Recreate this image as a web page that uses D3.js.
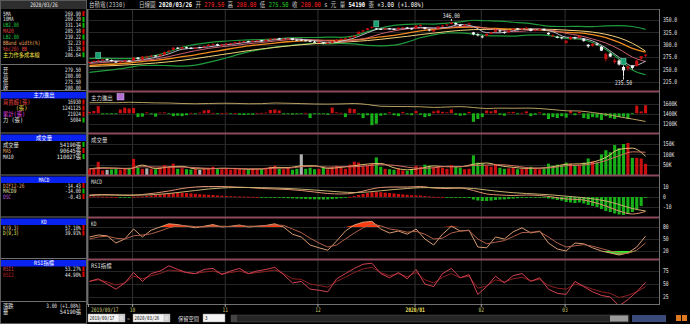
<!DOCTYPE html>
<html><head><meta charset="utf-8">
<script src="https://cdn.jsdelivr.net/npm/d3@7/dist/d3.min.js"></script>
<style>
html,body{margin:0;padding:0;background:#000;overflow:hidden;}
svg{display:block;}
</style></head>
<body><svg id="chart" width="690" height="324"></svg>
<script>
// ================= DATA =================
const monthDays = [
  ["2019/09", [17,18,19,20,23,24,25,26,27,30]],
  ["2019/10", [1,2,3,4,7,8,9,14,15,16,17,18,21,22,23,24,25,28,29,30,31]],
  ["2019/11", [1,4,5,6,7,8,11,12,13,14,15,18,19,20,21,22,25,26,27,28,29]],
  ["2019/12", [2,3,4,5,6,9,10,11,12,13,16,17,18,19,20,23,24,25,26,27,30,31]],
  ["2020/01", [2,3,6,7,8,9,10,13,14,15,16,17,20,30,31]],
  ["2020/02", [3,4,5,6,7,10,11,12,13,14,17,18,19,20,21,24,25,26,27]],
  ["2020/03", [2,3,4,5,6,9,10,11,12,13,16,17,18,19,20,23,24,25,26]]
];
const xTickLabels = ["2019/09/17","10","11","12","2020/01","02","03"];
// [open, high, low, close]
const ohlc = [
 [264,266,263,265],[265,268,265,267],[268,270,266,268],[268,271,267,270],[271,272,268,270],
 [269,270,266,267],[266,267,263,264],[264,267,263,266],[266,269,265,268],[268,269,265,267],
 [268,275,267,274],[274,275,270,271],[270,277,269,276],[276,278,274,276],[277,279,275,278],
 [278,279,276,277],[277,281,276,280],[280,286,279,285],[286,289,284,288],[290,295,289,294],
 [294,295,291,292],[292,296,291,295],[295,296,292,293],[294,295,291,292],[292,295,291,294],
 [295,296,293,294],[295,298,294,297],[297,301,297,300],[301,303,300,301],[301,302,297,298],
 [298,301,297,300],[301,303,299,302],[302,304,301,303],[303,306,302,305],[305,307,304,306],
 [306,308,305,307],[307,308,305,306],[306,309,305,308],[308,310,307,309],[309,310,306,307],
 [307,311,307,310],[310,313,309,312],[312,314,311,313],[313,314,310,311],[311,313,310,312],
 [312,314,311,313],[313,313,309,310],[310,311,308,309],[310,312,308,309],[309,310,307,308],
 [308,309,305,306],[306,308,304,305],[304,307,303,306],[305,305,301,303],[303,305,302,304],
 [304,308,303,307],[307,311,306,310],[310,313,309,312],[312,314,311,313],[313,316,312,315],
 [315,319,314,318],[322,327,321,326],[327,330,325,329],[330,334,329,333],[334,337,333,336],
 [333,334,330,332],[332,333,330,331],[331,334,330,333],[333,334,331,332],[332,333,330,331],
 [331,335,331,334],[334,336,333,335],[335,336,332,333],[333,334,330,331],[333,339,332,339],
 [339,341,337,340],[335,336,331,332],[331,332,327,329],[327,331,325,330],[333,337,332,337],
 [338,340,336,339],[340,342,338,341],[342,346,341,345],[344,345,340,341],[340,342,337,339],
 [339,342,338,340],[341,344,340,343],[325,326,319,321],[321,323,317,320],[317,319,313,316],
 [318,323,317,322],[322,326,321,325],[326,331,325,330],[329,330,325,327],[326,327,322,324],
 [325,330,324,329],[330,333,329,332],[333,334,330,331],[331,334,330,333],[333,336,332,334],
 [332,333,327,328],[328,331,327,330],[330,333,329,332],[332,333,328,329],[324,325,320,321],
 [318,321,316,319],[316,318,313,315],[315,316,311,313],[304,309,302,308],[311,317,310,316],
 [315,316,311,313],[314,319,313,318],[312,313,306,308],[300,301,294,297],[298,303,296,302],
 [302,304,298,300],[296,297,287,288],[271,284,266,281],[282,284,275,276],[265,272,262,268],
 [268,270,258,260],[255,258,235.5,248],[252,258,248,256],[258,259,250,253],[257,269,256,268],
 [272,277,270,277],[279.5,280,275.5,280]
];
// volume in thousand 張
const volume = [
 28,30,64,22,25,27,30,26,33,35,
 78,35,30,32,30,28,36,48,42,55,30,33,28,26,30,25,30,35,40,30,28,
 30,26,32,28,25,27,30,26,28,35,40,45,30,28,35,25,30,100,30,35,28,
 30,40,28,38,45,35,30,50,64,60,42,48,55,85,40,30,28,25,30,22,20,25,
 45,40,50,45,38,42,35,30,48,42,35,28,30,95,60,
 55,45,40,50,35,30,32,35,28,30,35,40,30,28,32,55,45,50,48,
 60,55,45,50,60,80,65,60,100,120,110,145,130,150,155,83,83,80,54.19
];
// 主力進出 daily net (張)
const mainForce = [
 3000,5000,15000,-2000,-1500,-2000,-1000,8000,12000,10000,
 11000,-8000,-7000,2000,-2000,-7000,1500,2000,-1000,-6000,-5000,-6000,-4000,1000,-1000,1500,6000,7000,1000,-1000,500,
 1000,-1000,500,-3000,-3500,-2500,-3000,500,1000,1500,7000,8000,6000,-2000,-1500,-2500,-2000,-1000,1000,-10000,-1000,
 -2000,-1500,-3000,12000,2000,1000,-8000,10000,9000,-2000,-10000,-4000,-25000,-22000,-5000,-3000,2000,-4000,-6000,3000,-2000,-4000,
 5000,-3000,-8000,-6000,4000,6000,3000,2000,8000,-3000,-5000,-4000,3000,-18000,-12000,
 -8000,6000,4000,7000,-3000,-5000,2000,3000,-2000,1000,4000,-6000,-3000,2000,-4000,-12000,-8000,-10000,-6000,
 -9000,5000,-4000,3000,-10000,-12000,-8000,-9000,-14000,-6000,-10000,-12000,-8000,-7000,-12000,-2000,16000,4000,16930
];
// MACD histogram (OSC)
const osc = [
 0.5,0.6,0.5,0.4,0.3,0.2,0,-0.2,-0.3,-0.2,
 0.3,0.4,0.5,1,1.5,2,2.5,3,3.5,4,4.2,4.3,4,3.6,3.2,2.8,2.5,2.2,2,1.6,1.3,
 1,0.8,0.6,0.5,0.4,0.3,0.2,0.1,-0.2,-0.4,-0.5,-0.6,-0.8,-1,-1.2,-1.4,-1.6,-1.8,-2,-2.2,-2.3,
 -2.4,-2.5,-2.4,-2.1,-1.7,-1.2,-0.6,0.1,1,2,3,4,4.8,5,4.8,4.4,4,3.5,3,2.6,2.2,1.8,
 1.6,1.4,1,0.6,0.3,0.1,0.1,-0.2,-0.3,-0.4,-0.5,-0.7,-1,-2.5,-3.5,
 -4,-4,-3.6,-3,-2.6,-2.4,-2,-1.6,-1.2,-0.9,-0.6,-0.6,-0.5,-0.5,-0.8,-1.5,-2.2,-3,-3.6,
 -5,-5.5,-6,-5.5,-6.5,-8,-9,-10,-12,-14,-15,-16.5,-17.5,-18,-17,-15,-12,-9,-0.43
];
// smooth lines, read every 3rd trading day
const ma5 = [264,266.8,267.4,266.4,270,274.4,281.6,290.8,293.2,295.6,299.2,301.6,305.4,307.4,310.2,312.2,311,307.8,304.6,307.2,313.6,324.2,332.2,331.8,332.8,335.2,333.6,335,341,336.8,324.4,324,328.4,331.8,331.4,326.2,315.2,313.6,307.6,293.6,274.6,257,266.8];
const ma10 = [262,264,266,266.8,268.5,271,276,282,288,292.5,296,298.5,302,304.5,307.5,310,311,310,308,306,309,314,322,328,332,333.5,333.5,334.5,337,337,333,330,326.5,328,330.5,329,323,318.5,311.5,303.5,291,275,266];
const ma20 = [258,260,261,263,266,268.4,271.6,275.9,279.6,284.3,288.8,293.5,297.7,300.5,303.3,306,307.6,308.6,308.5,308.9,309.9,312.5,315.7,319.1,323.3,328.1,330.8,333.7,335.1,335.5,333.5,332.7,331.5,331.6,329.9,327.3,324.9,324.1,320.4,314.3,304.7,292.8,285.2];
const upperBand = [272,273,272,272,274,278.4,285.6,294.9,300.6,304.3,306.8,308.5,309.7,310.5,311.3,314,314.6,314.6,315.5,314.9,317.9,326.5,333.7,339.1,341.3,342.1,341.8,343.7,346.1,349.5,348.5,347.7,345.5,343.6,339.9,337.3,336.9,337.1,336.4,338.3,338.7,336.8,331.1];
const lowerBand = [244,247,250,254,258,258.4,257.6,256.9,258.6,264.3,270.8,278.5,285.7,290.5,295.3,298,300.6,302.6,301.5,302.9,301.9,298.5,297.7,299.1,305.3,314.1,319.8,323.7,324.1,321.5,318.5,317.7,317.5,319.6,319.9,317.3,312.9,311.1,304.4,290.3,270.7,248.8,239.2];
const costLine = [256,257,258,259.5,261,263,265.5,268.5,272,276,280,284,288,291.5,294.5,297.5,300,302,303.5,305,306.5,308.5,311,314,317,320.5,323.5,326.5,329,330.5,331,331,331,331.5,331.5,331,329.5,328,325.5,321,314,303,287];
const mainCum = [1615,1618,1615,1625,1620,1612,1610,1600,1595,1600,1605,1603,1595,1597,1610,1605,1598,1590,1588,1592,1600,1580,1545,1540,1538,1535,1522,1530,1538,1520,1500,1508,1505,1508,1500,1478,1455,1450,1420,1385,1335,1290,1241];
const volMA5 = [30,35,33,30,48,31,39,42,30,30,33,31,28,29,37,36,44,45,32,37,45,53,56,35,25,32,44,40,40,52,58,45,37,32,33,40,52,54,62,85,124,130,90.6];
const volMA10 = [30,32,33,32,40,39,38,38,36,32,31,32,30,30,33,33,40,42,38,40,40,45,50,47,38,32,35,42,40,46,48,50,45,36,33,36,45,47,54,70,93,112,110];
const dif = [2,2.5,2,1.5,2.5,4,6,8.5,10,10.5,10.5,10,9.5,8.5,8,7.5,6.5,5,3.5,3,4,7,9.5,10,10,10.5,9,8.5,9,6.5,3,2,1.5,2,1.5,0,-2,-2.5,-5,-9,-14,-17,-14.43];
const macdSignal = [1.5,2,2,2,2,2.5,3.5,5,6.5,8,9,9.5,9.5,9.3,9,8.5,7.8,7,6,5,4.5,5,6.2,7.5,8.5,9.3,9.4,9.2,9.1,8.5,7,5.5,4.3,3.5,2.8,2,0.8,-0.3,-1.8,-4,-7.5,-11.5,-14];
// oscillators, read every 2nd trading day
const kLine = [55,60,58,40,50,75,55,72,80,88,86,82,78,82,86,80,82,85,80,82,84,88,80,62,55,35,28,22,45,70,85,92,94,75,65,70,62,75,50,35,62,82,70,72,30,28,55,50,68,78,65,70,40,25,20,40,38,28,20,15,10,15,30,57.1];
const dLine = [50,55,57,52,50,58,60,63,70,78,83,83,81,80,82,82,81,83,82,82,83,85,84,75,66,52,40,30,35,50,65,78,87,83,75,72,67,69,62,50,52,65,70,71,50,38,42,46,56,66,67,68,55,40,30,33,36,32,26,20,15,14,22,39.91];
const rsi1 = [55,60,50,40,52,72,55,70,75,85,78,72,70,78,80,68,75,80,70,75,78,82,68,52,55,40,38,35,60,70,80,88,90,70,62,72,60,78,50,45,70,80,62,68,30,45,65,52,66,70,55,62,40,32,30,55,45,35,28,25,8,20,35,53.27];
const rsi2 = [55,58,54,48,52,65,60,66,70,77,75,72,70,73,75,70,72,75,70,72,74,77,70,60,59,50,47,44,55,63,72,79,82,72,66,70,64,72,58,52,63,70,62,65,42,46,58,54,60,63,56,59,47,42,40,50,46,40,35,32,24,28,35,44.9];
// left panel texts
const priceLegendLabels = ["5MA","10MA","UB2.00","MA20","LB2.00","BBand width(%)","%b(20) BB","主力作多成本線"];
const priceLegendValues = ["269.90","269.20","331.14","285.18","239.22","32.23","31.35","286.64"];
const mainLegendLabels = ["買賣超(張)","    (張)","累計(張)","力 (張)"];
const mainLegendValues = ["16930","1241125","21924","5084"];
const volLegendLabels = ["成交量","MA5","MA10"];
const volLegendValues = ["54190張","90645張","110027張"];
const macdLegendLabels = ["DIF12-26","MACD9","OSC"];
const macdLegendValues = ["-14.43","-14.00","-0.43"];
const kdLegendLabels = ["K(9,3)","D(9,3)"];
const kdLegendValues = ["57.10%","39.91%"];
const rsiLegendLabels = ["RSI1","RSI2"];
const rsiLegendValues = ["53.27%","44.90%"];
const priceTicks = [225,250,275,300,325,350];
const mainTicks = [1200,1400,1600];
const volTicks = [50,100,150];
const macdTicks = [-10,0,10];
const kdTicks = [20,50,80];
const rsiTicks = [25,50,75];
const exDivDates = ["2019/09/19","2019/12/19","2020/03/19"];

// ================= BUILD =================
const dates = [];
monthDays.forEach(([m, ds]) => ds.forEach(d => dates.push(m + "/" + String(d).padStart(2,"0"))));
const tickDates = monthDays.map(([m, ds]) => m + "/" + String(ds[0]).padStart(2,"0"));
const s3 = d3.range(0, dates.length, 3).map(i => dates[i]);
const s2 = d3.range(0, dates.length, 2).map(i => dates[i]);

const MONO = "'DejaVu Sans Mono','Noto Sans CJK TC',monospace";
const RED = "#e00000", GRN = "#00c000";

const svg = d3.select("#chart");
svg.append("rect").attr("width",690).attr("height",324).attr("fill","#000");

function T(g, x, y, s, o) {
  o = o || {};
  const cjk = /[\u3000-\u9fff\uff00-\uffef]/.test(s);
  const sx = o.sx || (cjk ? 0.88 : 0.74);
  return g.append("text")
    .attr("transform", "translate(" + x + "," + y + ") scale(" + sx + ",1)")
    .attr("text-anchor", o.anchor || "start")
    .attr("font-family", MONO)
    .attr("font-size", o.size || 6.4)
    .attr("font-weight", o.weight || "normal")
    .attr("fill", o.color || "#e0e0e0")
    .attr("xml:space","preserve")
    .text(s);
}

const PL = 88, PR = 659;
const x = d3.scaleBand().domain(dates).range([87,648]).paddingInner(0.3).paddingOuter(0.2);
const bw = x.bandwidth();
const cx = d => x(d) + bw/2;

const panels = {
  price:{t:9,b:91}, main:{t:92,b:133}, vol:{t:134,b:175},
  macd:{t:176,b:217}, kd:{t:218,b:259}, rsi:{t:260,b:304}
};
const yP = d3.scaleLinear().domain([225,350]).range([81.8,20]);
const yMC = d3.scaleLinear().domain([1200,1600]).range([123.5,103.5]);
const yMB = d3.scaleLinear().domain([-21000,21000]).range([123.3,103.3]);
const yV = d3.scaleLinear().domain([0,150]).range([175,144]);
const yM = d3.scaleLinear().domain([-10,10]).range([207,187]);
const yK = d3.scaleLinear().domain([20,80]).range([251,227]);
const yR = d3.scaleLinear().domain([25,75]).range([297,271]);

const defs = svg.append("defs");
Object.entries(panels).forEach(([k,p]) => {
  defs.append("clipPath").attr("id","clip-"+k).append("rect")
    .attr("x",PL).attr("y",p.t).attr("width",PR-PL).attr("height",p.b-p.t);
});
const gridG = svg.append("g");
const G = {};
Object.keys(panels).forEach(k => { G[k] = svg.append("g").attr("clip-path","url(#clip-"+k+")"); });

tickDates.forEach(td => {
  gridG.append("line").attr("x1",cx(td)-1).attr("x2",cx(td)-1).attr("y1",9).attr("y2",304)
    .attr("stroke","#333").attr("stroke-width",1);
});
function hgrid(scale, ticks) {
  ticks.forEach(t => gridG.append("line").attr("x1",PL).attr("x2",PR)
    .attr("y1",Math.round(scale(t))+0.5).attr("y2",Math.round(scale(t))+0.5)
    .attr("stroke","#262626"));
}
hgrid(yP, priceTicks); hgrid(yMC, mainTicks); hgrid(yV, volTicks);
hgrid(yM, macdTicks); hgrid(yK, kdTicks); hgrid(yR, rsiTicks);

function sparseLine(g, arr, keys, scale, color, width, curve) {
  g.append("path").datum(arr)
    .attr("d", d3.line().x((v,k)=>cx(keys[k])).y(v=>scale(v)).curve(curve || d3.curveMonotoneX))
    .attr("fill","none").attr("stroke",color).attr("stroke-width",width||1);
}

// ---- price panel ----
sparseLine(G.price, upperBand, s3, yP, "#1f9a3c", 1.2);
sparseLine(G.price, lowerBand, s3, yP, "#1f9a3c", 1.2);
sparseLine(G.price, costLine, s3, yP, "#f2d27a", 1);
sparseLine(G.price, ma20, s3, yP, "#f08a1c", 1.3);
sparseLine(G.price, ma10, s3, yP, "#c86070", 1);
sparseLine(G.price, ma5, s3, yP, "#b8b8c8", 1);

const candles = G.price.selectAll("g.c").data(ohlc).join("g");
candles.append("line")
  .attr("x1",(d,i)=>cx(dates[i])).attr("x2",(d,i)=>cx(dates[i]))
  .attr("y1",d=>yP(d[1])).attr("y2",d=>yP(d[2]))
  .attr("stroke",d=>d[3]>=d[0]?"#c81010":"#f0f0f0");
candles.append("rect")
  .attr("x",(d,i)=>x(dates[i])).attr("width",bw)
  .attr("y",d=>yP(Math.max(d[0],d[3])))
  .attr("height",d=>Math.max(1,Math.abs(yP(d[0])-yP(d[3]))))
  .attr("fill",d=>d[3]>=d[0]?"#c81010":"#f4f4f4");
exDivDates.forEach(dd => {
  const i = dates.indexOf(dd);
  const gx = cx(dd), gy = yP(ohlc[i][1]) - 7;
  G.price.append("rect").attr("x",gx-2.5).attr("y",gy).attr("width",5).attr("height",6)
    .attr("fill","#1aa070").attr("stroke","#7fe0c0").attr("stroke-width",0.5);
});
(function(){
  let hi = 0, lo = 0;
  ohlc.forEach((d,i)=>{ if(d[1]>ohlc[hi][1]) hi=i; if(d[2]<ohlc[lo][2]) lo=i; });
  const hx = cx(dates[hi]), lx = cx(dates[lo]);
  svg.append("line").attr("x1",hx).attr("x2",hx).attr("y1",yP(ohlc[hi][1])-1).attr("y2",yP(ohlc[hi][1])-3).attr("stroke","#ddd");
  T(svg, hx, yP(ohlc[hi][1])-3.5, ohlc[hi][1].toFixed(2), {anchor:"middle", color:"#e8e8e8"});
  svg.append("line").attr("x1",lx).attr("x2",lx).attr("y1",yP(ohlc[lo][2])+0.5).attr("y2",yP(ohlc[lo][2])+3).attr("stroke","#ddd");
  T(svg, lx, yP(ohlc[lo][2])+8.5, ohlc[lo][2].toFixed(2), {anchor:"middle", color:"#e8e8e8"});
})();

// ---- main force panel ----
G.main.selectAll("rect.b").data(mainForce).join("rect")
  .attr("x",(d,i)=>x(dates[i])).attr("width",bw)
  .attr("y",d=>Math.min(yMB(d),yMB(0))).attr("height",d=>Math.max(0.8,Math.abs(yMB(d)-yMB(0))))
  .attr("fill",d=>d>=0?"#c81010":"#18b018");
sparseLine(G.main, mainCum, s3, yMC, "#b8a060", 1);

// ---- volume panel ----
G.vol.selectAll("rect.v").data(volume).join("rect")
  .attr("x",(d,i)=>x(dates[i])).attr("width",bw)
  .attr("y",d=>yV(d)).attr("height",d=>yV(0)-yV(d))
  .attr("fill",(d,i)=>{ if(i===0) return "#c81010"; const c=ohlc[i][3], p=ohlc[i-1][3]; return c>p?"#c81010":(c<p?"#18b018":"#b0b0b0"); });
sparseLine(G.vol, volMA5, s3, yV, "#e0c070", 1);
sparseLine(G.vol, volMA10, s3, yV, "#d07060", 1);

// ---- MACD ----
G.macd.selectAll("rect.m").data(osc).join("rect")
  .attr("x",(d,i)=>x(dates[i])).attr("width",bw)
  .attr("y",d=>Math.min(yM(d),yM(0))).attr("height",d=>Math.max(0.8,Math.abs(yM(d)-yM(0))))
  .attr("fill",d=>d>=0?"#c81010":"#18b018");
sparseLine(G.macd, dif, s3, yM, "#e09070", 1);
sparseLine(G.macd, macdSignal, s3, yM, "#c8b070", 1);

// ---- KD ----
const kPts = kLine.map((v,k)=>[cx(s2[k]), v]);
G.kd.append("path").datum(kPts)
  .attr("d", d3.area().x(d=>d[0]).y0(yK(80)).y1(d=>yK(Math.max(80,d[1]))))
  .attr("fill","#ff3a10");
G.kd.append("path").datum(kPts)
  .attr("d", d3.area().x(d=>d[0]).y0(yK(20)).y1(d=>yK(Math.min(20,d[1]))))
  .attr("fill","#30f030");
sparseLine(G.kd, kLine, s2, yK, "#d89a70", 1, d3.curveLinear);
sparseLine(G.kd, dLine, s2, yK, "#b06048", 1, d3.curveLinear);

// ---- RSI ----
sparseLine(G.rsi, rsi2, s2, yR, "#8c2020", 1, d3.curveLinear);
sparseLine(G.rsi, rsi1, s2, yR, "#d04050", 1, d3.curveLinear);

// ---- frames / separators ----
svg.append("line").attr("x1",PR+0.5).attr("x2",PR+0.5).attr("y1",9).attr("y2",305).attr("stroke","#707070");
svg.append("line").attr("x1",PL-0.5).attr("x2",PL-0.5).attr("y1",9).attr("y2",305).attr("stroke","#707070");
svg.append("line").attr("x1",PL).attr("x2",PR).attr("y1",9.5).attr("y2",9.5).attr("stroke","#505050");
[91.5,133.5,175.5,217.5,259.5].forEach(y => {
  svg.append("rect").attr("x",PL).attr("y",y-1).attr("width",PR-PL).attr("height",2).attr("fill","#8a4a5c");
});
svg.append("line").attr("x1",PL).attr("x2",PR).attr("y1",304.5).attr("y2",304.5).attr("stroke","#707070");

function axisLabels(scale, ticks, fmt) {
  ticks.forEach(t => T(svg, 663, scale(t)+2.2, fmt(t), {color:"#e4e4e4"}));
}
axisLabels(yP, priceTicks, t=>t.toFixed(1));
axisLabels(yMC, mainTicks, t=>t+"K");
axisLabels(yV, volTicks, t=>t+"K");
axisLabels(yM, macdTicks, t=>String(t));
axisLabels(yK, kdTicks, t=>String(t));
axisLabels(yR, rsiTicks, t=>String(t));

function ptitle(y, s) { T(svg, 91, y, s, {color:"#d8d8d8", size:6.2}); }
ptitle(99.5,"主力進出");
svg.append("rect").attr("x",117).attr("y",93.5).attr("width",7).attr("height",6.5).attr("fill","#b070d0").attr("stroke","#e0b0ff").attr("stroke-width",0.5);
ptitle(141.5,"成交量");
ptitle(183.5,"MACD");
ptitle(225.5,"KD");
ptitle(267.5,"RSI指標");

tickDates.forEach((td,k) => {
  const tx = cx(td) - 1;
  svg.append("line").attr("x1",tx).attr("x2",tx).attr("y1",304).attr("y2",307).attr("stroke","#a0a0a0");
  const first = k===0, bold = xTickLabels[k].length===7;
  T(svg, first ? 91 : tx, 312, xTickLabels[k], {anchor: first ? "start":"middle", weight: bold?"bold":"normal",
    color: bold ? "#f0e060" : "#c8c878", size:6.2});
});

(function(){
  const last = ohlc[ohlc.length-1], prev = ohlc[ohlc.length-2];
  const chg = last[3]-prev[3];
  const t = svg.append("text").attr("transform","translate(89,7) scale(0.84,1)").attr("font-family",MONO).attr("font-size",6.6)
    .attr("xml:space","preserve");
  const parts = [
    ["台積電(2330)","#c8c8c8","normal"],["    日線圖 ","#c8c8c8","normal"],
    [dates[dates.length-1],"#ffffff","bold"],[" 开 ","#c8c8c8","normal"],[last[0].toFixed(2),"#ff2020","normal"],
    [" 高 ","#c8c8c8","normal"],[last[1].toFixed(2),"#ff2020","normal"],
    [" 低 ","#c8c8c8","normal"],[last[2].toFixed(2),"#20d020","normal"],
    [" 收 ","#c8c8c8","normal"],[last[3].toFixed(2),"#ff2020","normal"],
    [" s 元 ","#c8c8c8","normal"],["量 ","#c8c8c8","normal"],
    [String(Math.round(volume[volume.length-1]*1000)),"#ffffff","bold"],[" 張 ","#c8c8c8","normal"],
    [(chg>=0?"+":"")+chg.toFixed(2)+" (+"+(chg/prev[3]*100).toFixed(2)+"%)","#ffffff","normal"]
  ];
  parts.forEach(p => t.append("tspan").attr("fill",p[1]).attr("font-weight",p[2]).text(p[0]));
})();

// ================= LEFT PANEL =================
const LP = svg.append("g");
LP.append("rect").attr("x",0.5).attr("y",0.5).attr("width",86).attr("height",323).attr("fill","#000").attr("stroke","#5a5a5a");
LP.append("rect").attr("x",1).attr("y",1).attr("width",85).attr("height",8).attr("fill","#2e2e2e");
T(LP, 44, 7, dates[dates.length-1], {anchor:"middle", color:"#e8e8e8", size:6.2});
function rows(labels, values, y0, dy, lcolors, arrows) {
  labels.forEach((l,k) => {
    const y = y0 + k*dy;
    T(LP, 3, y, l, {color:lcolors[k], size:6});
    T(LP, 81, y, values[k], {anchor:"end", color:"#e0e0e0", size:6});
    if (arrows) LP.append("rect").attr("x",82.5).attr("y",y-4.5).attr("width",2).attr("height",5)
      .attr("fill",arrows[k]==="u"?RED:GRN);
  });
}
function header(y, s) {
  LP.append("line").attr("x1",1).attr("x2",86).attr("y1",y-1.5).attr("y2",y-1.5).attr("stroke","#707070");
  LP.append("rect").attr("x",1).attr("y",y).attr("width",85).attr("height",6.5).attr("fill","#0a22f0");
  T(LP, 44, y+5.3, s, {anchor:"middle", color:"#ffffff", size:6});
}
rows(priceLegendLabels, priceLegendValues, 15.5, 5.9,
  ["#e0e0e0","#e0e0e0","#20c040","#e04040","#20c040","#e0a060","#e04040","#f0e040"],
  ["u","d","d","u","d","u","u","d"]);
LP.append("line").attr("x1",1).attr("x2",86).attr("y1",64.5).attr("y2",64.5).attr("stroke","#707070");
(function(){
  const last = ohlc[ohlc.length-1];
  rows(["开","高","低","收"], last.map(v=>v.toFixed(2)), 72, 5.9, ["#e0e0e0","#e0e0e0","#e0e0e0","#e0e0e0"], null);
})();
header(92, "主力進出");
rows(mainLegendLabels, mainLegendValues, 104, 6, ["#e04040","#e0d040","#e040e0","#e0e0e0"], ["u","u","u","d"]);
header(134.5, "成交量");
rows(volLegendLabels, volLegendValues, 146.5, 6, ["#e0e0e0","#e0a060","#e0e0e0"], ["d","u","d"]);
header(176.5, "MACD");
rows(macdLegendLabels, macdLegendValues, 187.5, 5.5, ["#e0a070","#e0e0a0","#c060e0"], ["u","d","u"]);
header(218.5, "KD");
rows(kdLegendLabels, kdLegendValues, 229.5, 5.5, ["#e0c0a0","#e0e060"], ["u","u"]);
header(260, "RSI指標");
rows(rsiLegendLabels, rsiLegendValues, 271, 5.5, ["#e04050","#c02020"], ["u","u"]);
LP.append("line").attr("x1",1).attr("x2",86).attr("y1",301.5).attr("y2",301.5).attr("stroke","#707070");
(function(){
  const last = ohlc[ohlc.length-1], prev = ohlc[ohlc.length-2];
  const chg = last[3]-prev[3];
  rows(["漲跌","量"], [chg.toFixed(2)+" (+"+(chg/prev[3]*100).toFixed(2)+"%)", Math.round(volume[volume.length-1]*1000)+"張"], 308, 6, ["#e0e0e0","#e0e0e0"], null);
})();

// ================= BOTTOM CONTROLS =================
const BC = svg.append("g");
function inputBox(x0, w, s) {
  BC.append("rect").attr("x",x0).attr("y",314).attr("width",w).attr("height",8).attr("fill","#f4f4f4").attr("stroke","#888").attr("stroke-width",0.5);
  T(BC, x0+1.5, 320.3, s, {color:"#202020", size:5.6});
  BC.append("rect").attr("x",x0+w-6).attr("y",315).attr("width",5).attr("height",6).attr("fill","#dcdcdc").attr("stroke","#999").attr("stroke-width",0.4);
}
inputBox(88, 37, dates[0]);
T(BC, 127, 320.5, "~", {color:"#ddd"});
inputBox(133, 37, dates[dates.length-1]);
T(BC, 178, 320.5, "保留空間", {color:"#d8d8d8", size:6});
BC.append("rect").attr("x",203).attr("y",314).attr("width",22).attr("height",8).attr("fill","#f4f4f4").attr("stroke","#888").attr("stroke-width",0.5);
T(BC, 205, 320.3, "3", {color:"#202020", size:5.6});
BC.append("rect").attr("x",231).attr("y",315).attr("width",398).attr("height",7).attr("fill","#262626").attr("stroke","#555").attr("stroke-width",0.5);
BC.append("rect").attr("x",231).attr("y",315).attr("width",6).attr("height",7).attr("fill","#444");
BC.append("rect").attr("x",610).attr("y",315.5).attr("width",18).attr("height",6).attr("fill","#9a9a9a");
BC.append("rect").attr("x",632).attr("y",315).attr("width",34).attr("height",7).attr("fill","#3a4a7a");
BC.append("rect").attr("x",676).attr("y",315).attr("width",5).attr("height",6).attr("fill","#e07a20");
BC.append("rect").attr("x",682).attr("y",315).attr("width",5).attr("height",6).attr("fill","#e07a20");
</script></body></html>
